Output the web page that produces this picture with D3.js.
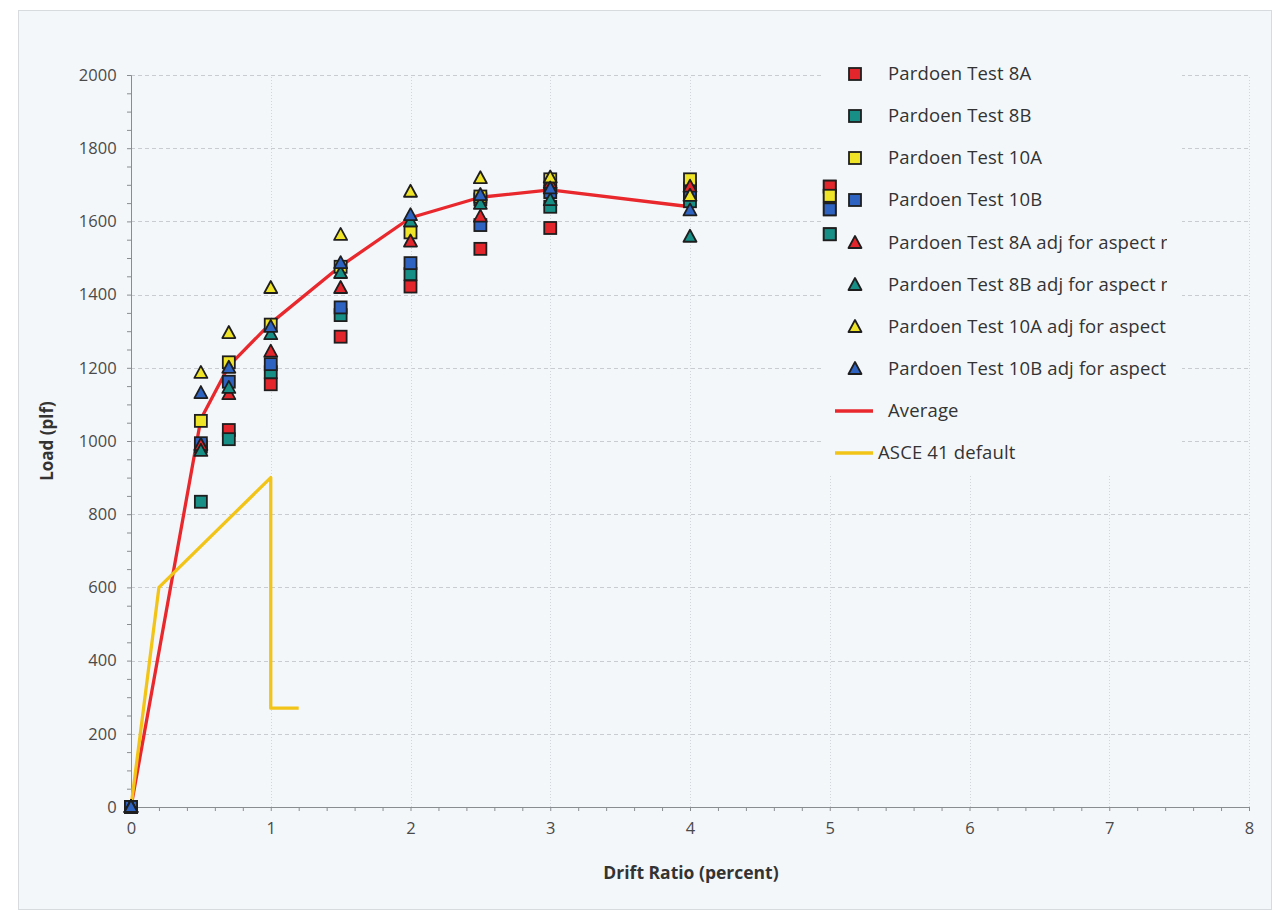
<!DOCTYPE html>
<html><head><meta charset="utf-8">
<script src="https://cdn.jsdelivr.net/npm/d3@7/dist/d3.min.js"></script>
<style>
html,body{margin:0;padding:0;background:#fff;}
svg{display:block;}
text{font-family:"Open Sans","Noto Sans",sans-serif;}
</style></head>
<body>
<script>
// ---- data ----
const driftSq = [0, 0.5, 0.7, 1, 1.5, 2, 2.5, 3, 4, 5];
const test8A  = [0, 985, 1030, 1155, 1285, 1422, 1525, 1582, 1690, 1695];
const test8B  = [0, 834, 1005, 1188, 1344, 1456, 1660, 1640, 1655, 1565];
const test10A = [0, 1055, 1215, 1318, 1476, 1570, 1668, 1715, 1715, 1670];
const test10B = [0, 994, 1162, 1210, 1365, 1486, 1590, 1680, 1680, 1633];

const driftTri = [0, 0.5, 0.7, 1, 1.5, 2, 2.5, 3, 4];
const adj8A  = [0, 989, 1128, 1244, 1418, 1545, 1613, 1705, 1695];
const adj8B  = [0, 973, 1145, 1292, 1459, 1600, 1648, 1658, 1558];
const adj10A = [0, 1186, 1295, 1418, 1563, 1681, 1718, 1720, 1670];
const adj10B = [0, 1131, 1200, 1312, 1486, 1617, 1672, 1690, 1630];

const driftAvg = [0, 0.5, 0.7, 1, 1.5, 2, 2.5, 3, 4];
const average  = [0, 1060, 1205, 1322, 1478, 1610, 1666, 1686, 1640];

const driftAsce = [0, 0.2, 1, 1, 1.2];
const asce41    = [0, 600, 900, 270, 270];

const xTicks = [0, 1, 2, 3, 4, 5, 6, 7, 8];
const yTicks = [0, 200, 400, 600, 800, 1000, 1200, 1400, 1600, 1800, 2000];

const seriesNames = ["Pardoen Test 8A", "Pardoen Test 8B", "Pardoen Test 10A", "Pardoen Test 10B",
  "Pardoen Test 8A adj for aspect ratio", "Pardoen Test 8B adj for aspect ratio",
  "Pardoen Test 10A adj for aspect ratio", "Pardoen Test 10B adj for aspect ratio",
  "Average", "ASCE 41 default"];

// ---- styles ----
const C = {red:"#e3262c", teal:"#178f86", yellow:"#f0e428", blue:"#2e63c2", avg:"#e8282c", asce:"#f2c418"};
const W = 1280, H = 916;

const svg = d3.select("body").append("svg").attr("width", W).attr("height", H);
svg.append("rect").attr("width", W).attr("height", H).attr("fill", "#ffffff");
svg.append("rect").attr("x", 18.5).attr("y", 10.5).attr("width", 1253).attr("height", 899)
  .attr("fill", "#f4f7fa").attr("stroke", "#d8dbde").attr("stroke-width", 1);

const x = d3.scaleLinear().domain([0, 8]).range([131, 1249]);
const y = d3.scaleLinear().domain([0, 2000]).range([807, 75]);

// grid
const g = svg.append("g");
g.selectAll("line.hg").data(yTicks.slice(1)).join("line")
  .attr("x1", x(0)).attr("x2", x(8)).attr("y1", d => Math.round(y(d)) + 0.5).attr("y2", d => Math.round(y(d)) + 0.5)
  .attr("stroke", "#c9ccd0").attr("stroke-width", 1).attr("stroke-dasharray", "4,3");
g.selectAll("line.vg").data(xTicks.slice(1)).join("line")
  .attr("y1", y(0)).attr("y2", y(2000)).attr("x1", d => Math.round(x(d)) + 0.5).attr("x2", d => Math.round(x(d)) + 0.5)
  .attr("stroke", "#d2d5d9").attr("stroke-width", 1).attr("stroke-dasharray", "1,2");

// legend background (covers grid)
svg.append("rect").attr("x", 822).attr("y", 55).attr("width", 360).attr("height", 420).attr("fill", "#f4f7fa");

// axes
const xAxis = d3.axisBottom(x).tickValues(d3.range(0, 8.001, 0.2)).tickSize(4)
  .tickFormat(d => (Math.abs(d - Math.round(d)) < 1e-6 ? d3.format("d")(Math.round(d)) : ""));
const gx = svg.append("g").attr("transform", `translate(0,${y(0)})`).call(xAxis);
gx.select(".domain").attr("stroke", "#8a8d90");
gx.selectAll(".tick line").attr("stroke", "#8a8d90");
gx.selectAll(".tick text").attr("fill", "#4a4a4a").attr("font-size", 16.5).attr("dy", "1.2em");

const yAxis = d3.axisLeft(y).tickValues(d3.range(0, 2001, 50)).tickSize(4)
  .tickFormat(d => (d % 200 === 0 ? String(d) : ""));
const gy = svg.append("g").attr("transform", `translate(${x(0)},0)`).call(yAxis);
gy.select(".domain").attr("stroke", "#8a8d90");
gy.selectAll(".tick line").attr("stroke", "#8a8d90");
gy.selectAll(".tick text").attr("fill", "#4a4a4a").attr("font-size", 16.5).attr("dx", "-0.45em");

// axis titles
svg.append("text").attr("x", 691).attr("y", 879).attr("text-anchor", "middle")
  .attr("font-size", 17.5).attr("font-weight", "bold").attr("fill", "#333").text("Drift Ratio (percent)");
svg.append("text").attr("transform", "translate(53,441) rotate(-90)").attr("text-anchor", "middle")
  .attr("font-size", 17).attr("font-weight", "bold").attr("fill", "#333").text("Load (plf)");

// lines
const line = d3.line().x(d => x(d[0])).y(d => y(d[1]));
svg.append("path").datum(driftAvg.map((d, i) => [d, average[i]])).attr("d", line)
  .attr("fill", "none").attr("stroke", C.avg).attr("stroke-width", 3.3).attr("stroke-linejoin", "round");
svg.append("path").datum(driftAsce.map((d, i) => [d, asce41[i]])).attr("d", line)
  .attr("fill", "none").attr("stroke", C.asce).attr("stroke-width", 3.3).attr("stroke-linejoin", "round");

// markers
const sqSize = 12;
function drawSquares(xs, ys, col) {
  svg.append("g").selectAll("rect").data(xs.map((d, i) => [d, ys[i]])).join("rect")
    .attr("x", d => x(d[0]) - sqSize / 2).attr("y", d => y(d[1]) - sqSize / 2)
    .attr("width", sqSize).attr("height", sqSize)
    .attr("fill", col).attr("stroke", "#1e1e1e").attr("stroke-width", 1.8);
}
const triPath = "M0,-7 L6.5,5 L-6.5,5 Z";
function drawTris(xs, ys, col) {
  svg.append("g").selectAll("path").data(xs.map((d, i) => [d, ys[i]])).join("path")
    .attr("transform", d => `translate(${x(d[0])},${y(d[1])})`).attr("d", triPath)
    .attr("fill", col).attr("stroke", "#1e1e1e").attr("stroke-width", 1.8).attr("stroke-linejoin", "round");
}
drawSquares(driftSq, test8A, C.red);
drawSquares(driftSq, test8B, C.teal);
drawSquares(driftSq, test10A, C.yellow);
drawSquares(driftSq, test10B, C.blue);
drawTris(driftTri, adj8A, C.red);
drawTris(driftTri, adj8B, C.teal);
drawTris(driftTri, adj10A, C.yellow);
drawTris(driftTri, adj10B, C.blue);

// legend
const defs = svg.append("defs");
defs.append("clipPath").attr("id", "legclip").append("rect")
  .attr("x", 820).attr("y", 50).attr("width", 347).attr("height", 430);
const leg = svg.append("g").attr("clip-path", "url(#legclip)");
const legY = [74, 116, 158, 200, 243, 285, 327, 369, 411, 453];
const legCols = [C.red, C.teal, C.yellow, C.blue, C.red, C.teal, C.yellow, C.blue];
seriesNames.forEach((name, i) => {
  const yy = legY[i];
  if (i < 4) {
    leg.append("rect").attr("x", 855 - 6).attr("y", yy - 6).attr("width", 12).attr("height", 12)
      .attr("fill", legCols[i]).attr("stroke", "#1e1e1e").attr("stroke-width", 1.8);
  } else if (i < 8) {
    leg.append("path").attr("transform", `translate(855,${yy})`).attr("d", triPath)
      .attr("fill", legCols[i]).attr("stroke", "#1e1e1e").attr("stroke-width", 1.8).attr("stroke-linejoin", "round");
  } else {
    leg.append("line").attr("x1", 835).attr("x2", 873).attr("y1", yy).attr("y2", yy)
      .attr("stroke", i === 8 ? C.avg : C.asce).attr("stroke-width", 3.3);
  }
  leg.append("text").attr("x", i === 9 ? 878 : 888).attr("y", yy).attr("dy", "0.35em")
    .attr("font-size", 18.5).attr("letter-spacing", "0.15px").attr("fill", "#333").text(name);
});
// markers at x=5 sit over the legend area: redraw them on top
drawSquares(driftSq.slice(9), test8A.slice(9), C.red);
drawSquares(driftSq.slice(9), test8B.slice(9), C.teal);
drawSquares(driftSq.slice(9), test10A.slice(9), C.yellow);
drawSquares(driftSq.slice(9), test10B.slice(9), C.blue);
</script>
</body></html>
